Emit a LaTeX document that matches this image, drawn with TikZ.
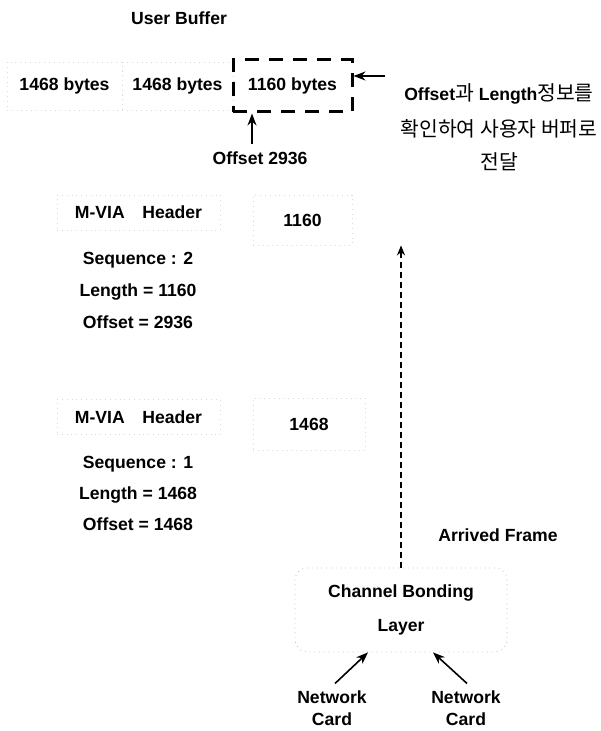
\documentclass[tikz,border=0pt]{standalone}
\usepackage{fontspec}
\setmainfont{Liberation Sans}
\newfontfamily\kor{Noto Sans CJK KR}
\usetikzlibrary{arrows.meta,positioning}
\definecolor{faint}{HTML}{DADADA}

\begin{document}
\begin{tikzpicture}[x=.5pt,y=-.5pt,font=\fontsize{8.8}{10}\selectfont\bfseries,
  seg/.style={draw=faint,dotted,line width=.4pt,inner sep=0pt},
  cur/.style={draw,line width=1.5pt,dash pattern=on 7pt off 5pt,inner sep=0pt},
  arr/.style={-{Stealth[length=6pt,width=4.5pt]},line width=.8pt},
  darr/.style={-{Stealth[length=5pt,width=4pt]},line width=.7pt,dash pattern=on 3pt off 2pt}]
\useasboundingbox (0,0) rectangle (600,731);
% user buffer
\node (ub) at (179,18){User Buffer};
\node[seg,minimum width=57.5pt,minimum height=24pt] (b1) at (64.5,86){1468 bytes};
\node[seg,minimum width=55.5pt,minimum height=24pt] (b2) at (177.5,86){1468 bytes};
\node[cur,minimum width=59.5pt,minimum height=26pt] (b3) at (292.5,86){1160 bytes};
\coordinate (r) at (385,76);
\draw[arr] (r) -- (r -| b3.east);
\node (off) at (260,158){Offset 2936};
\draw[arr] ([xshift=-4pt]off.north) -- ([xshift=-4pt]off.north |- b3.south);
\node[align=center] (note) at (499,127){Offset{\kor\mdseries\fontsize{10.2}{10}\selectfont 과} Length{\kor\mdseries\fontsize{10.2}{10}\selectfont 정보를}\\[6.5pt]
  {\kor\mdseries\fontsize{10.2}{10}\selectfont 확인하여 사용자 버퍼로}\\[6.5pt]{\kor\mdseries\fontsize{10.2}{10}\selectfont 전달}};
% second frame
\node[seg,minimum width=81.5pt,minimum height=17.5pt] (hd2) at (138.5,212.5){M-VIA\hspace{1em}Header};
\node[seg,minimum width=49.5pt,minimum height=25pt] (pl2) at (302.5,220){1160};
\node[align=center] (in2) at (138,290){Sequence : 2\\[6pt]Length = 1160\\[6pt]Offset = 2936};
% first frame
\node[seg,minimum width=81.5pt,minimum height=17.5pt] (hd1) at (138.5,417){M-VIA\hspace{1em}Header};
\node[seg,minimum width=56pt,minimum height=26pt] (pl1) at (309,424){1468};
\node[align=center] (in1) at (138,493){Sequence : 1\\[5.5pt]Length = 1468\\[5.5pt]Offset = 1468};
% bonding layer
\node (af) at (498,535){Arrived Frame};
\node[seg,draw=gray!55,rounded corners=6pt,minimum width=106pt,minimum height=42pt,align=center] (cb) at (401,610){Channel Bonding\\[7pt]Layer};
\draw[darr] (cb.north) -- (cb.north |- pl2.south);
\node (nc1) at (332,697){Network};
\node[below=-2.5pt of nc1] (cd1){Card};
\node (nc2) at (466,697){Network};
\node[below=-2.5pt of nc2] (cd2){Card};
\draw[arr] ([xshift=1.5pt]nc1.north) -- ([xshift=-16.5pt]cb.south);
\draw[arr] ([xshift=.5pt]nc2.north) -- ([xshift=16pt]cb.south);
\end{tikzpicture}
\end{document}
